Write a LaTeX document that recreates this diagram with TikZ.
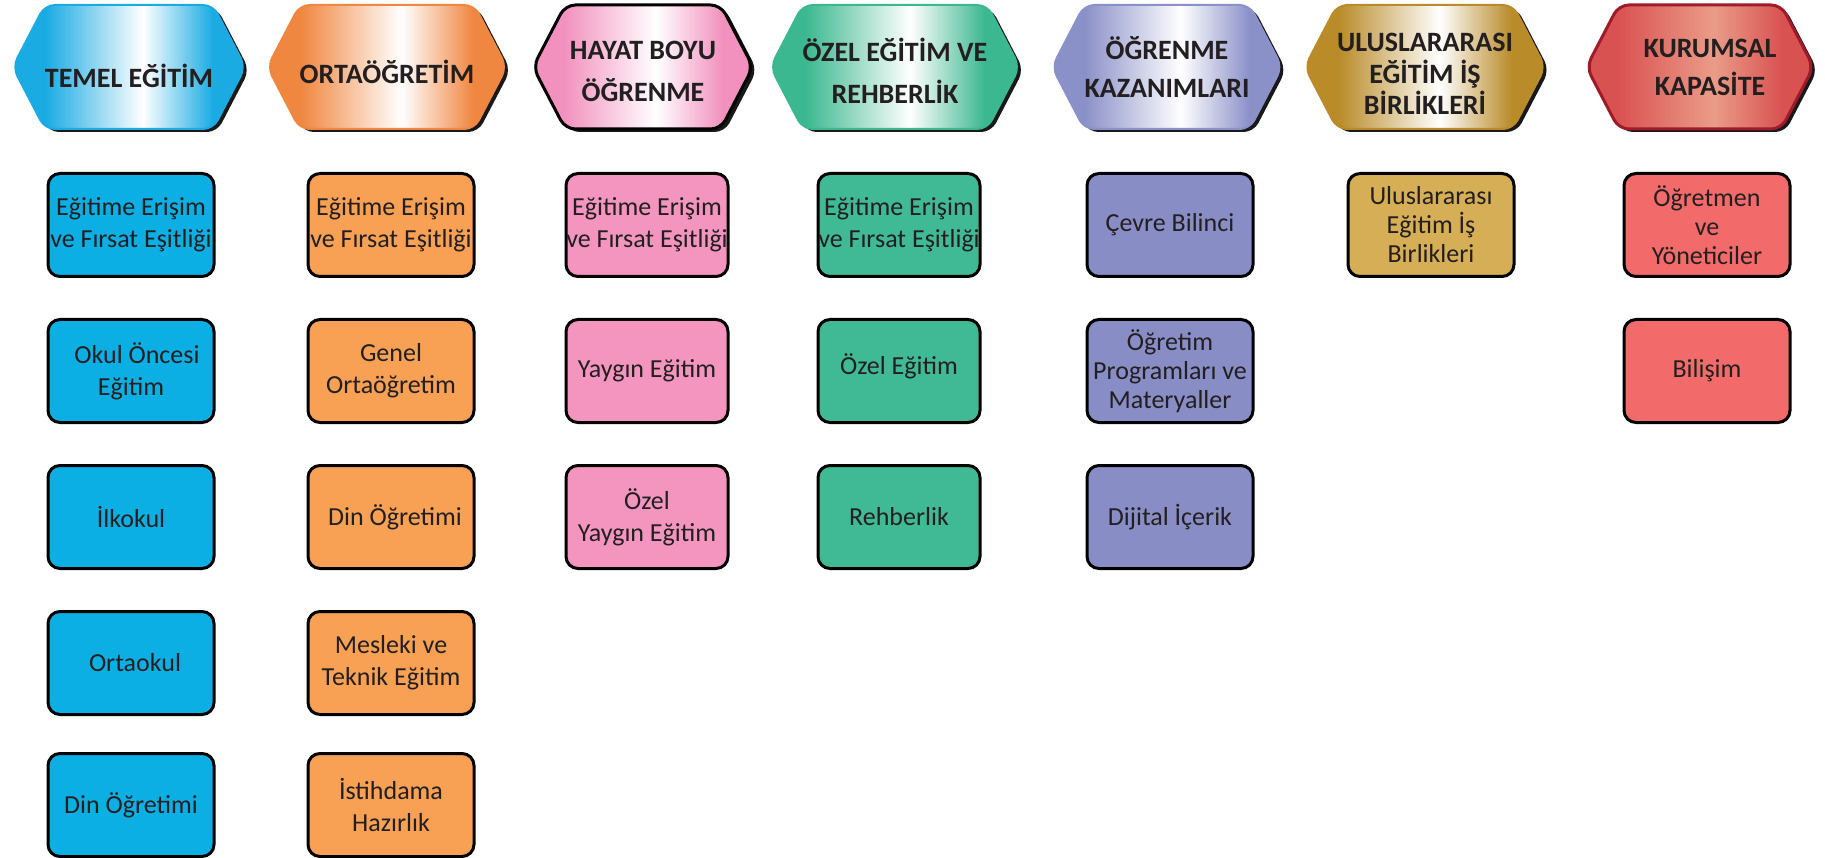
\documentclass[tikz,border=0pt]{standalone}
\usepackage{fontspec}
\setmainfont{Carlito}
\usepackage{xcolor}
\usepackage{tikz}
\usetikzlibrary{shapes.symbols,shadows}

\definecolor{txt}{HTML}{231F20}
\definecolor{blueh}{HTML}{1AABE3}
\definecolor{blueb}{HTML}{0BAFE4}
\definecolor{orangeh}{HTML}{F08740}
\definecolor{orangeb}{HTML}{F8A155}
\definecolor{pinkh}{HTML}{F291BE}
\definecolor{pinkb}{HTML}{F495C0}
\definecolor{greenh}{HTML}{3BB88F}
\definecolor{greenb}{HTML}{40BA94}
\definecolor{purpleh}{HTML}{8A90C8}
\definecolor{purpleb}{HTML}{888DC5}
\definecolor{goldh}{HTML}{B98B29}
\definecolor{goldb}{HTML}{D5AE55}
\definecolor{redh}{HTML}{D95252}
\definecolor{redm}{HTML}{EA9C88}
\definecolor{redd}{HTML}{9E1B2A}
\definecolor{redb}{HTML}{F26B6A}

% header gradient: coloured edges, light band right of centre
\colorlet{headc}{blueh}
\colorlet{headm}{white}
\pgfdeclarehorizontalshading[headc,headm]{headshade}{100bp}{%
  color(0bp)=(headc); color(25bp)=(headc); color(32bp)=(headc);
  color(53bp)=(headm); color(68bp)=(headc); color(75bp)=(headc);
  color(100bp)=(headc)}

% lower a line of text without changing its box
\newcommand{\lowertext}[2]{\raisebox{-#1}[\height][\depth]{#2}}

\begin{document}
\begin{tikzpicture}[
    x=1pt, y=-1pt,
    head/.style={signal, signal to=west and east, signal pointer angle=125,
        minimum width=230pt, minimum height=124pt, inner sep=0pt,
        rounded corners=10pt, line width=2pt, align=center, text=txt,
        font=\bfseries\fontsize{28}{40}\selectfont,
        drop shadow={shadow xshift=4pt, shadow yshift=-3pt, opacity=0.9, fill=black}},
    headfill/.style={/utils/exec={\colorlet{headc}{#1}}, shading=headshade, draw=#1},
    item/.style={draw=black, line width=3pt, rounded corners=12pt,
        minimum width=166pt, minimum height=103pt, inner sep=0pt,
        align=center, text=txt, font=\fontsize{26}{32}\selectfont}
]
\useasboundingbox (0,0) rectangle (1825,858);

% Headers
\node[head, headfill=blueh] (hte) at (129,67) {\lowertext{9pt}{TEMEL EĞİTİM}};
\node[head, headfill=orangeh] (hor) at (387,67) {\lowertext{5pt}{ORTAÖĞRETİM}};
\node[head, headfill=pinkh, draw=black, line width=3pt, minimum width=220pt,
      font=\bfseries\fontsize{28}{42}\selectfont] (hhb) at (643,67)
      {\lowertext{4pt}{HAYAT BOYU}\\\lowertext{4pt}{ÖĞRENME}};
\node[head, headfill=greenh, minimum width=225pt,
      font=\bfseries\fontsize{28}{42}\selectfont] (hoz) at (895,67)
      {\lowertext{4pt}{ÖZEL EĞİTİM VE}\\\lowertext{4pt}{REHBERLİK}};
\node[head, headfill=purpleh, font=\bfseries\fontsize{28}{38}\selectfont] (hok) at (1167,67) {ÖĞRENME\\KAZANIMLARI};
\node[head, headfill=goldh, font=\bfseries\fontsize{28}{31.5}\selectfont] (hul) at (1425,67)
      {\lowertext{7pt}{ULUSLARARASI}\\\lowertext{7pt}{EĞİTİM İŞ}\\\lowertext{7pt}{BİRLİKLERİ}};
\node[head, headfill=redh, /utils/exec={\colorlet{headm}{redm}}, draw=redd, line width=3pt,
      minimum width=227pt, font=\bfseries\fontsize{28}{38}\selectfont] (hku) at (1700,67)
      {\hspace*{20pt}KURUMSAL\\\hspace*{20pt}KAPASİTE};

% Temel egitim
\node[item, fill=blueb] (te1) at (131,225) {Eğitime Erişim\\ve Fırsat Eşitliği};
\node[item, fill=blueb] (te2) at (131,371) {\hspace*{12pt}Okul Öncesi\\Eğitim};
\node[item, fill=blueb] (te3) at (131,517) {İlkokul};
\node[item, fill=blueb] (te4) at (131,663) {\hspace*{8pt}Ortaokul};
\node[item, fill=blueb] (te5) at (131,805) {Din Öğretimi};

% Ortaogretim
\node[item, fill=orangeb] (or1) at (391,225) {Eğitime Erişim\\ve Fırsat Eşitliği};
\node[item, fill=orangeb] (or2) at (391,371) {Genel\\Ortaöğretim};
\node[item, fill=orangeb] (or3) at (391,517) {\hspace*{8pt}Din Öğretimi};
\node[item, fill=orangeb] (or4) at (391,663) {Mesleki ve\\Teknik Eğitim};
\node[item, fill=orangeb] (or5) at (391,805) {İstihdama\\Hazırlık};

% Hayat boyu ogrenme
\node[item, fill=pinkb, minimum width=162pt] (hb1) at (647,225) {Eğitime Erişim\\ve Fırsat Eşitliği};
\node[item, fill=pinkb, minimum width=162pt] (hb2) at (647,371) {Yaygın Eğitim};
\node[item, fill=pinkb, minimum width=162pt] (hb3) at (647,517) {Özel\\Yaygın Eğitim};

% Ozel egitim ve rehberlik
\node[item, fill=greenb, minimum width=162pt] (oz1) at (899,225) {Eğitime Erişim\\ve Fırsat Eşitliği};
\node[item, fill=greenb, minimum width=162pt] (oz2) at (899,371) {\lowertext{-5pt}{Özel Eğitim}};
\node[item, fill=greenb, minimum width=162pt] (oz3) at (899,517) {Rehberlik};

% Ogrenme kazanimlari
\node[item, fill=purpleb] (ok1) at (1170,225) {Çevre Bilinci};
\node[item, fill=purpleb, font=\fontsize{26}{29}\selectfont] (ok2) at (1170,371) {Öğretim\\Programları ve\\Materyaller};
\node[item, fill=purpleb] (ok3) at (1170,517) {Dijital İçerik};

% Uluslararasi
\node[item, fill=goldb, font=\fontsize{26}{29}\selectfont] (ul1) at (1431,225) {Uluslararası\\Eğitim İş\\Birlikleri};

% Kurumsal kapasite
\node[item, fill=redb, font=\fontsize{26}{29}\selectfont] (ku1) at (1707,225) {Öğretmen\\ve\\Yöneticiler};
\node[item, fill=redb] (ku2) at (1707,371) {Bilişim};

\end{tikzpicture}
\end{document}
